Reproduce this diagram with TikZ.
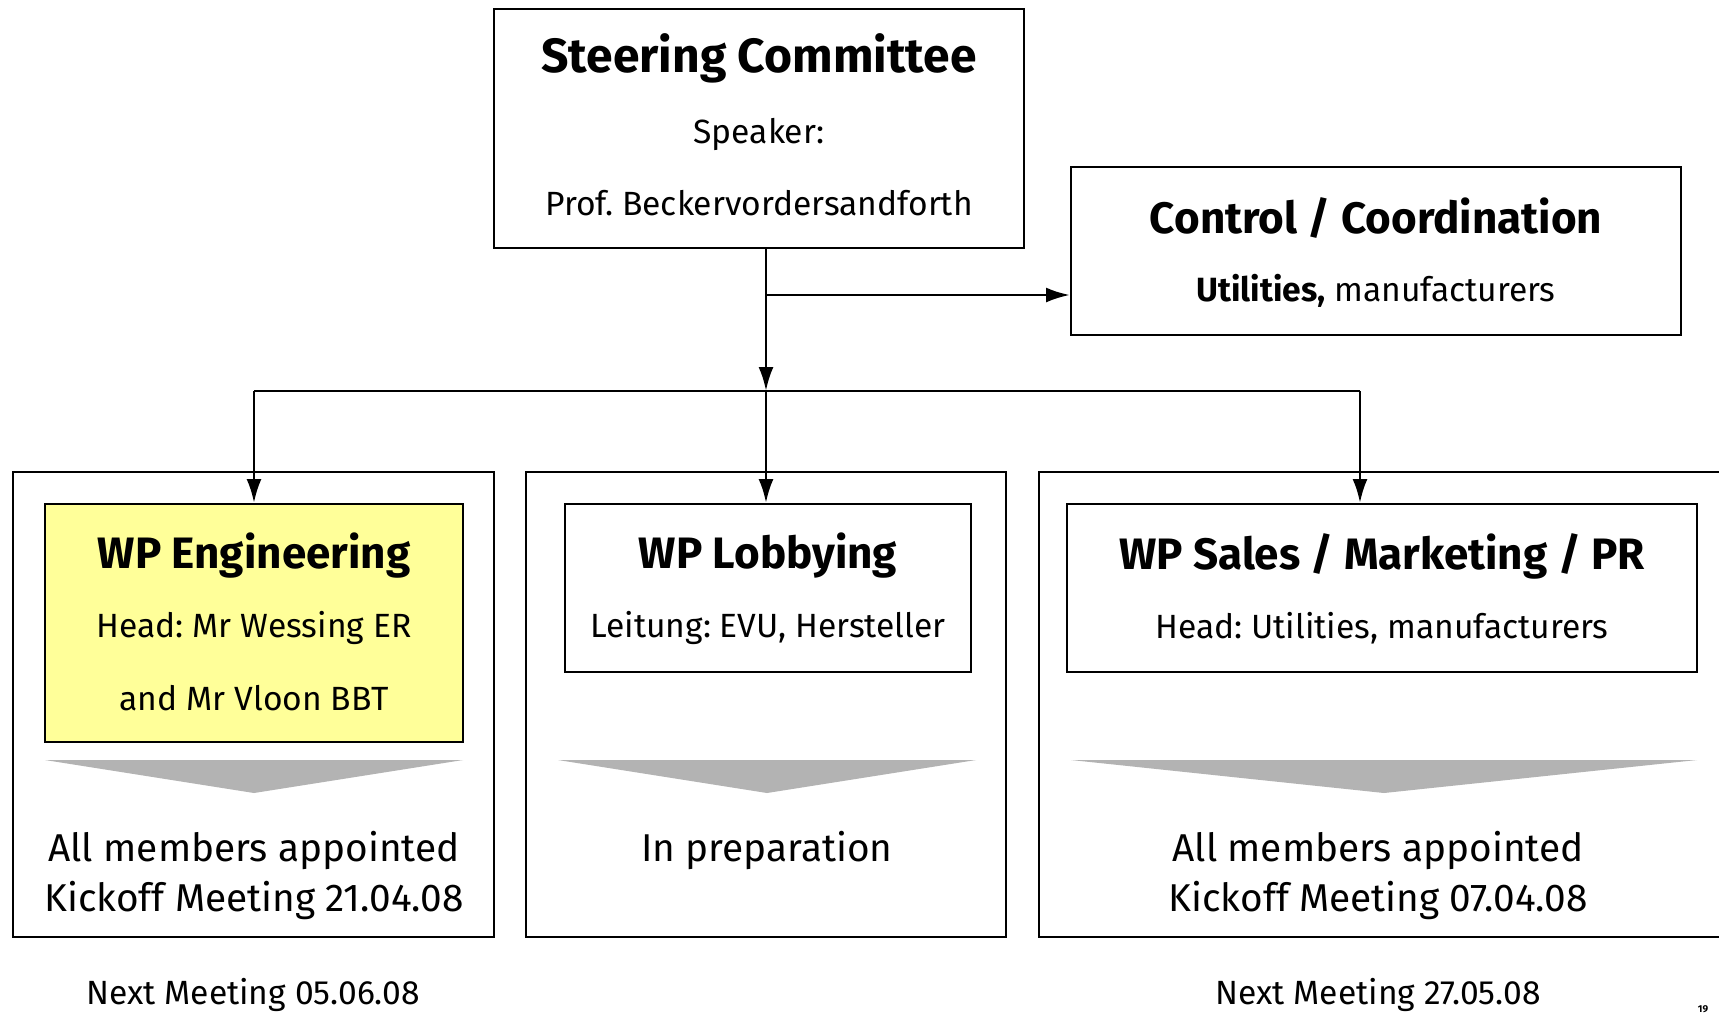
\documentclass[tikz,border=0pt]{standalone}
\usepackage{fontspec}
\setmainfont{Fira Sans}
\usetikzlibrary{arrows.meta}
\frenchspacing

\tikzset{
  box/.style={draw, line width=1pt, inner sep=0pt, fill=white},
  wpbox/.style={box},
  title/.style={font=\bfseries\fontsize{22}{26}\selectfont},
  txt/.style={font=\fontsize{16.8}{20}\selectfont},
  big/.style={font=\fontsize{19.4}{25}\selectfont, align=center},
  arr/.style={-{Latex[length=12pt, width=7.5pt]}, line width=1.4pt},
  line/.style={line width=1.4pt}
}
\definecolor{wpyellow}{HTML}{FFFF99}
\definecolor{chevgray}{HTML}{B3B3B3}

\begin{document}
\begin{tikzpicture}[x=0.5pt, y=-0.5pt]
  \useasboundingbox (0,0) rectangle (1719,1014);

  % top level
  \node[box, minimum width=265pt, minimum height=119.5pt] (steer) at (759,128.5) {};
  \node[title, font=\bfseries\fontsize{24}{28}\selectfont] (steertitle) at (759,58) {Steering Committee};
  \node[txt] (speaker) at (759,134) {Speaker:};
  \node[txt] (prof) at (759,203) {Prof. Beckervordersandforth};

  \node[box, minimum width=305pt, minimum height=84pt] (ctrl) at (1376,251) {};
  \node[title] (ctrltitle) at (1376,218) {Control / Coordination};
  \node[txt] (ctrltxt) at (1376,291) {\textbf{Utilities,} manufacturers};

  % work packages, outer frames
  \node[box, minimum width=240.5pt, minimum height=232.5pt] (outL) at (253.5,704.5) {};
  \node[box, minimum width=240pt, minimum height=232.5pt] (outM) at (766,704.5) {};
  \node[box, minimum width=345.5pt, minimum height=232.5pt] (outR) at (1384.5,704.5) {};

  % work packages, heads
  \node[wpbox, fill=wpyellow, minimum width=209pt, minimum height=119pt] (eng) at (254,623) {};
  \node[title] (engtitle) at (254,556) {WP Engineering};
  \node[txt] (enghead) at (254,628) {Head: Mr Wessing ER};
  \node[txt] (engand) at (254,698) {and Mr Vloon BBT};

  \node[wpbox, minimum width=203pt, minimum height=84pt] (lob) at (768,588) {};
  \node[title] (lobtitle) at (768,556) {WP Lobbying};
  \node[txt] (lobhead) at (768,628) {Leitung: EVU, Hersteller};

  \node[wpbox, minimum width=315pt, minimum height=84pt] (sales) at (1382,588) {};
  \node[title] (salestitle) at (1382,556) {WP Sales / Marketing / PR};
  \node[txt] (saleshead) at (1382,628) {Head: Utilities, manufacturers};

  % chevrons
  \fill[chevgray] (45,760) -- (463,760) -- (254,793) -- cycle;
  \fill[chevgray] (558,760) -- (976,760) -- (767,793) -- cycle;
  \fill[chevgray] (1071,760) -- (1697,760) -- (1384,793) -- cycle;

  % status
  \node[big] (engstat) at (254,875) {All members appointed\\Kickoff Meeting 21.04.08};
  \node[big] (lobstat) at (767,850) {In preparation};
  \node[big] (salesstat) at (1378,875) {All members appointed\\Kickoff Meeting 07.04.08};

  \node[txt] (engnext) at (253,995) {Next Meeting 05.06.08};
  \node[txt] (salesnext) at (1378,995) {Next Meeting 27.05.08};
  \node[font=\bfseries\fontsize{5}{6}\selectfont] (pagenum) at (1703,1009) {19};

  % connectors
  \coordinate (branch) at (766,295);
  \coordinate (bus) at (766,391);
  \coordinate (busL) at (254,391);
  \coordinate (busR) at (1360,391);

  \draw[arr] (steer.south -| bus) -- (bus);
  \draw[arr] (branch) -- (branch -| ctrl.west);
  \draw[line] (busL) -- (busR);
  \draw[arr] (busL) -- (eng.north);
  \draw[arr] (bus) -- (bus |- lob.north);
  \draw[arr] (busR) -- (busR |- sales.north);
\end{tikzpicture}
\end{document}
